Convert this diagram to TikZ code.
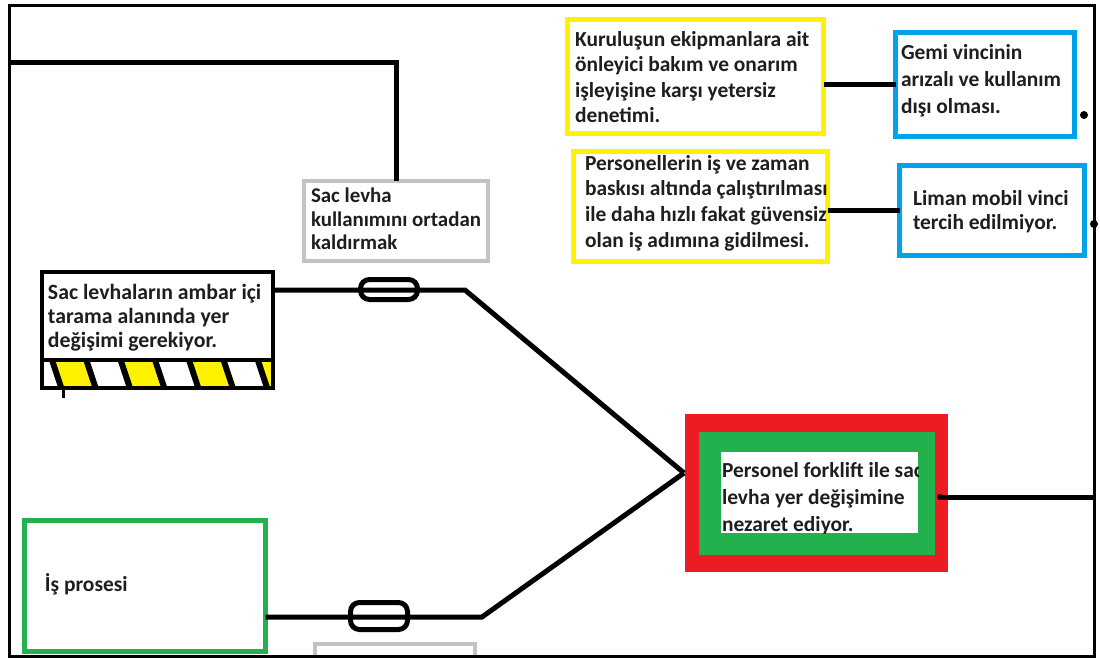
\documentclass[tikz,border=0pt]{standalone}
\usepackage{fontspec}
\setmainfont{Carlito}
\usetikzlibrary{calc}
\definecolor{pyellow}{HTML}{FFF200}
\definecolor{pblue}{HTML}{00A2E8}
\definecolor{pgreen}{HTML}{22B14C}
\definecolor{pred}{HTML}{ED1C24}
\definecolor{pgray}{HTML}{C3C3C3}
\definecolor{textc}{HTML}{1E1E1E}
\newdimen\PX \PX=0.02cm
\newcommand{\tfs}[2]{\fontsize{#1}{#2}\selectfont\bfseries}
\begin{document}
\begin{tikzpicture}[x=0.02cm, y=-0.02cm,
  every node/.style={inner sep=0pt, outer sep=0pt},
  wire/.style={draw=black, line width=5\PX},
  ybox/.style={draw=pyellow, line width=5\PX, fill=white},
  bbox/.style={draw=pblue, line width=5\PX, fill=white},
  gbox/.style={draw=pgray, line width=4\PX, fill=white},
  kbox/.style={draw=black, line width=4\PX, fill=white},
  grbox/.style={draw=pgreen, line width=5\PX, fill=white},
  fuse/.style={draw=black, line width=5\PX, rounded corners=9\PX},
  txt/.style={anchor=north west, align=left, text=textc},
  dot/.style={fill=black, circle, minimum size=8\PX},
]
\useasboundingbox (0,0) rectangle (1100,659);
\fill[white] (0,0) rectangle (1100,659);

% top right boxes
\node[ybox, minimum width=256\PX, minimum height=114\PX] (y1) at (695.5,76.5) {};
\node[ybox, minimum width=254\PX, minimum height=110\PX] (y2) at (700.5,206.5) {};
\node[bbox, minimum width=179\PX, minimum height=104\PX] (b1) at (985,84.5) {};
\node[bbox, minimum width=185\PX, minimum height=90\PX] (b2) at (992,210) {};

\node[txt, font={\tfs{12.2pt}{14.6pt}}] (t1) at (575,31) {Kuruluşun ekipmanlara ait\\önleyici bakım ve onarım\\işleyişine karşı yetersiz\\denetimi.};
\node[txt, font={\tfs{12.2pt}{14.7pt}}] (t2) at (585,155) {Personellerin iş ve zaman\\baskısı altında çalıştırılması\\ile daha hızlı fakat güvensiz\\olan iş adımına gidilmesi.};
\node[txt, font={\tfs{12.2pt}{15.5pt}}] (t3) at (901,44) {Gemi vincinin\\arızalı ve kullanım\\dışı olması.};
\node[txt, font={\tfs{12.2pt}{14.2pt}}] (t4) at (913,190) {Liman mobil vinci\\tercih edilmiyor.};

\draw[wire] (y1.east |- b1.west) -- (b1.west);
\draw[wire] (y2.east |- b2.west) -- (b2.west);

% gray box top
\coordinate (fl) at (9,62);
\node[gbox, minimum width=184\PX, minimum height=80\PX] (g1) at (396,221) {};
\node[txt, font={\tfs{11.9pt}{13.3pt}}] (t5) at (311,188) {Sac levha\\kullanımını ortadan\\kaldırmak};
\draw[wire] (fl) -| (g1.north);

% black hazard box
\node[kbox, minimum width=231\PX, minimum height=116\PX] (k) at (157.5,330) {};
\node[txt, font={\tfs{12.4pt}{13.6pt}}] (t6) at (48,284) {Sac levhaların ambar içi\\tarama alanında yer\\değişimi gerekiyor.};
\begin{scope}
  \clip (42,362) rectangle (273,388);
  \foreach \c in {57,125.6,194,262.8}
    \fill[pyellow] (\c-5,362) -- (\c+34.3-5,362) -- (\c+34.3+5,388) -- (\c+5,388) -- cycle;
  \foreach \c in {57,91.3,125.6,160,194,228.5,262.8}
    \draw[line width=6\PX] (\c-5,360) -- (\c+5,390);
\end{scope}
\draw[line width=4\PX] (k.west |- 0,360) -- (k.east |- 0,360);
\node[kbox, fill=none, minimum width=231\PX, minimum height=116\PX] (k2) at (157.5,330) {};
\coordinate (tk) at (63,398);
\draw[line width=3\PX] (k.south -| tk) -- (tk);

% red/green box
\node[fill=pred, minimum width=263\PX, minimum height=158\PX] (r) at (816.5,493) {};
\node[fill=pgreen, minimum width=236\PX, minimum height=123\PX] (gr) at (817,493.5) {};
\node[fill=white, minimum width=197\PX, minimum height=81\PX] (wh) at (819.5,492.5) {};
\begin{scope}
  \clip (wh.south west) rectangle (wh.north east);
  \node[txt, font={\tfs{12.2pt}{15.6pt}}] (t7) at (722,462) {Personel forklift ile sac\\levha yer değişimine\\nezaret ediyor.};
\end{scope}

% wires to red box
\coordinate (j1) at (465,290);
\coordinate (j2) at (482,617);
\coordinate (m) at (684,473);
\coordinate (rd) at (940,497);
\coordinate (fr) at (1094,497);
\draw[wire] (k.east |- j1) -- (j1) -- (m);
\node[fuse, minimum width=57\PX, minimum height=20\PX] (f1) at (389,289.5) {};

% is prosesi
\node[grbox, minimum width=241\PX, minimum height=131\PX] (is) at (145,586) {};
\node[anchor=west, text=textc, font={\tfs{12.2pt}{14pt}}] (t8) at (45,584) {İş prosesi};
\draw[wire] (is.east |- j2) -- (j2) -- (m);
\node[fuse, minimum width=57\PX, minimum height=27\PX] (f2) at (379,616) {};

\draw[wire] (rd) -- (fr);
\node[dot, minimum size=6\PX] (d0) at (rd) {};

% partially visible gray box
\begin{scope}
  \clip (9,5) rectangle (1094,656);
  \node[gbox, minimum width=160\PX, minimum height=55\PX] (g2) at (395,671.5) {};
\end{scope}

% frame
\draw[line width=3\PX] (9,5) rectangle (1094,656);
\node[dot] (d1) at (1084,115) {};
\node[dot] (d2) at (1094,224) {};
\end{tikzpicture}
\end{document}
